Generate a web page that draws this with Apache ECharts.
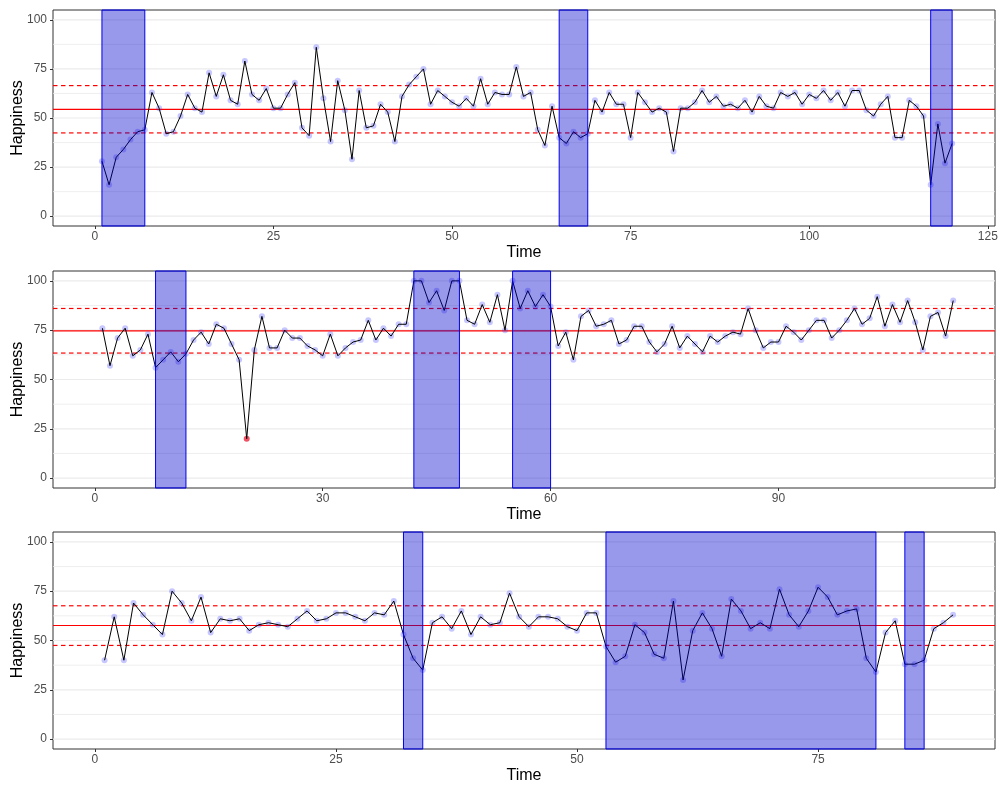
<!DOCTYPE html>
<html>
<head>
<meta charset="utf-8">
<script src="https://cdn.jsdelivr.net/npm/echarts@6/dist/echarts.min.js"></script>
<style>html,body{margin:0;padding:0;background:#fff;}#chart{width:1000px;height:785px;}</style>
</head>
<body>
<div id="chart"></div>
<script>
// ---- Data ----
const p1Values = [28,16,30,34,39,43,44,63,55,42,43,51,62,55,53,73,61,72,59,57,79,62,59,65,55,55,62,68,45,41,86,60,38,69,54,29,64,45,46,57,53,38,61,67,71,75,57,64,61,58,56,60,56,70,57,63,62,62,76,61,63,44,36,56,40,37,43,40,42,59,53,63,57,57,40,63,58,53,55,53,33,55,55,58,64,58,61,56,57,55,59,53,61,56,55,63,61,63,57,62,60,64,59,63,56,64,64,54,51,57,61,40,40,59,56,51,16,47,27,37];
const p2Values = [76,57,71,76,62,65,73,56,60,64,59,63,70,74,68,78,76,68,60,20,65,82,66,66,75,71,71,67,65,62,73,62,66,69,70,80,70,76,72,78,78,100,100,89,95,85,100,100,80,78,88,79,93,75,100,86,95,87,93,87,67,74,60,82,85,77,78,80,68,70,77,77,69,64,68,77,66,72,68,64,72,69,72,74,73,86,75,66,69,69,77,74,70,75,80,80,71,75,80,86,78,81,92,77,88,79,90,79,65,82,84,72,90];
const p3Values = [40,62,40,69,63,58,53,75,69,60,72,54,61,60,61,55,58,59,58,57,61,65,60,61,64,64,62,60,64,63,70,53,41,35,59,62,56,65,53,62,58,59,74,62,57,62,62,61,57,55,64,64,47,39,42,58,54,43,41,70,30,55,64,56,42,71,65,56,59,56,76,63,57,65,77,72,63,65,66,41,34,54,60,38,38,40,56,59,63];

const p1Windows = [[1,7],[65,69],[117,120]];
const p2Windows = [[8,12],[42,48],[55,60]];
const p3Windows = [[32,34],[53,81],[84,86]];

// reference lines: lower dashed, mean (solid), upper dashed
const p1RefLines = [42.4, 54.4, 66.5];
const p2RefLines = [63.4, 74.6, 86.0];
const p3RefLines = [47.5, 57.6, 67.6];

const p2Outliers = [20];

const p1XTicks = [0,25,50,75,100,125];
const p2XTicks = [0,30,60,90];
const p3XTicks = [0,25,50,75];
const yTicks = [0,25,50,75,100];
const yGridMajor = [0,25,50,75,100];
const yGridMinor = [12.5,37.5,62.5,87.5];

// ---- Build ----
const chart = echarts.init(document.getElementById('chart'), null, {renderer:'canvas'});
const FONT = '"Liberation Sans", Arial, sans-serif';
const RED = 'rgb(255,0,0)';
const DASH_ON = 4.5, DASH_OFF = 3.5, REF_W = 1.2;

const panels = [
  {values:p1Values, windows:p1Windows, ref:p1RefLines, xticks:p1XTicks, outliers:[], xmin:-5.85, xmax:126, top:10, height:216},
  {values:p2Values, windows:p2Windows, ref:p2RefLines, xticks:p2XTicks, outliers:p2Outliers, xmin:-5.5, xmax:118.5, top:271, height:217},
  {values:p3Values, windows:p3Windows, ref:p3RefLines, xticks:p3XTicks, outliers:[], xmin:-4.35, xmax:93.35, top:532, height:217}
];

const grid = [], xAxis = [], yAxis = [], series = [];
panels.forEach((p, i) => {
  grid.push({left:53, width:942, top:p.top, height:p.height, show:true, borderColor:'#333', borderWidth:1,
    backgroundColor:'#fff', containLabel:false, outerBoundsMode:'none'});
  xAxis.push({
    type:'value', gridIndex:i, min:p.xmin, max:p.xmax,
    name:'Time', nameLocation:'middle', nameGap:19, nameMoveOverlap:false,
    nameTextStyle:{fontSize:16, color:'#000', fontFamily:FONT},
    axisLine:{show:false, onZero:false},
    axisTick:{show:true, customValues:p.xticks, length:3, lineStyle:{color:'#333'}},
    axisLabel:{customValues:p.xticks, fontSize:12, color:'#4D4D4D', fontFamily:FONT, margin:5},
    splitLine:{show:false}
  });
  yAxis.push({
    type:'value', gridIndex:i, min:-5, max:105,
    name:'Happiness', nameLocation:'middle', nameGap:27, nameMoveOverlap:false,
    nameTextStyle:{fontSize:16, color:'#000', fontFamily:FONT},
    axisLine:{show:false, onZero:false},
    axisTick:{show:true, customValues:yTicks, length:3, lineStyle:{color:'#333'}},
    axisLabel:{customValues:yTicks, fontSize:12, color:'#4D4D4D', fontFamily:FONT, margin:6},
    splitLine:{show:false}
  });
  // grid lines
  const gl = yGridMajor.map(v => [v, 1]).concat(yGridMinor.map(v => [v, 0]));
  series.push({
    id:'grid'+i, name:'grid'+i,
    type:'custom', xAxisIndex:i, yAxisIndex:i, z:1, silent:true, clip:false,
    data: gl,
    encode:{y:0},
    renderItem:(params, api) => {
      const cs = params.coordSys;
      const y = api.coord([p.xmin, api.value(0)])[1];
      return {type:'line', shape:{x1:cs.x, y1:y, x2:cs.x+cs.width, y2:y},
        style:{stroke:'#EBEBEB', lineWidth: api.value(1) ? 1.2 : 0.8}};
    }
  });
  // reference lines, drawn as filled strips (solid) or dash segments
  series.push({
    id:'ref'+i, name:'ref'+i,
    type:'custom', xAxisIndex:i, yAxisIndex:i, z:2, silent:true, clip:false,
    data: p.ref.map((v, k) => [v, k === 1 ? 0 : 1]),
    encode:{y:0},
    renderItem:(params, api) => {
      const cs = params.coordSys;
      const y = api.coord([p.xmin, api.value(0)])[1];
      const dashed = api.value(1) === 1;
      const children = [];
      if (!dashed) {
        children.push({type:'rect', shape:{x:cs.x, y:y-REF_W/2, width:cs.width, height:REF_W}, style:{fill:RED}});
      } else {
        for (let x = cs.x; x < cs.x + cs.width; x += DASH_ON + DASH_OFF) {
          const w = Math.min(DASH_ON, cs.x + cs.width - x);
          children.push({type:'rect', shape:{x:x, y:y-REF_W/2, width:w, height:REF_W}, style:{fill:RED}});
        }
      }
      return {type:'group', children};
    }
  });
  // points
  const pts = p.values.map((v, k) => [k+1, v]);
  series.push({
    id:'pts'+i, name:'pts'+i,
    type:'scatter', xAxisIndex:i, yAxisIndex:i, z:3, silent:true, clip:false,
    symbolSize:6,
    data: pts.map(d => ({value:d, itemStyle:{color: p.outliers.includes(d[0]) ? 'rgba(235,0,30,0.85)' : 'rgba(40,40,255,0.33)'}}))
  });
  // line
  series.push({
    id:'line'+i, name:'line'+i,
    type:'line', xAxisIndex:i, yAxisIndex:i, z:4, silent:true, clip:false,
    showSymbol:false, data: pts,
    lineStyle:{color:'#000', width:1}
  });
  // windows
  series.push({
    id:'win'+i, name:'win'+i,
    type:'custom', xAxisIndex:i, yAxisIndex:i, z:10, silent:true, clip:false,
    data: p.windows,
    encode:{x:[0,1]},
    renderItem:(params, api) => {
      const cs = params.coordSys;
      const x0 = api.coord([api.value(0), 0])[0];
      const x1 = api.coord([api.value(1), 0])[0];
      return {type:'rect', shape:{x:x0, y:cs.y, width:x1-x0, height:cs.height},
        style:{fill:'rgba(0,0,205,0.4)', stroke:'#0000EE', lineWidth:1}};
    }
  });
});

chart.setOption({
  animation:false,
  backgroundColor:'#fff',
  textStyle:{fontFamily:FONT},
  grid, xAxis, yAxis, series
});
</script>
</body>
</html>
